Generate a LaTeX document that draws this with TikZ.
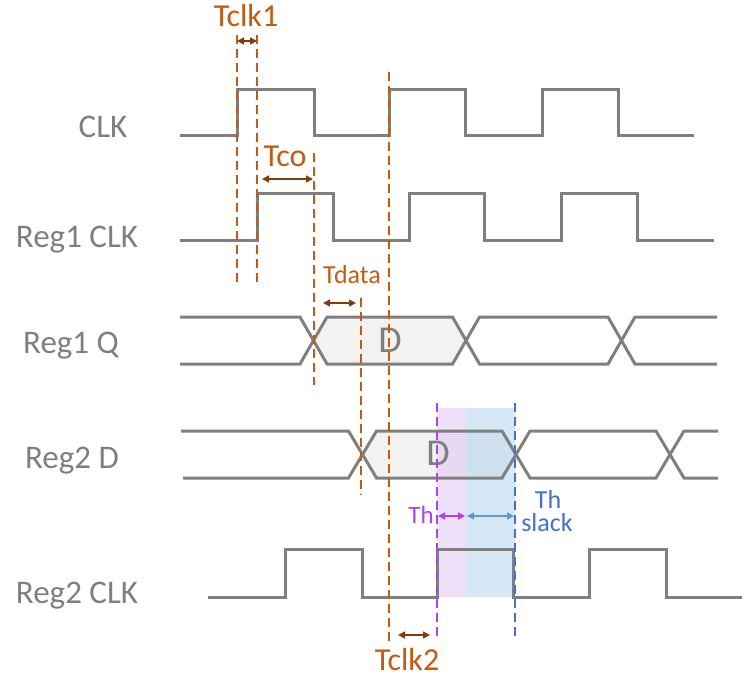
\documentclass[tikz,border=0pt]{standalone}
\usepackage{fontspec}
\setmainfont{Carlito}
\usetikzlibrary{arrows.meta}
\definecolor{wavegray}{HTML}{7F7F7F}
\definecolor{busfill}{HTML}{F2F2F2}
\definecolor{timorange}{HTML}{C55A11}
\definecolor{timbrown}{HTML}{843C0C}
\definecolor{holdpurple}{HTML}{B042E8}
\definecolor{holdfill}{HTML}{DFBFF3}
\definecolor{slackblue}{HTML}{4472C4}
\definecolor{slackarrow}{HTML}{5B9BD5}
\definecolor{slackfill}{HTML}{ADCFEB}
\tikzset{
  wave/.style={draw=wavegray, line width=1.5pt},
  guide/.style={line width=0.75pt, dash pattern=on 4.5pt off 2.5pt},
  span/.style={line width=0.75pt,
    {Triangle[length=3.5pt,width=3.5pt]}-{Triangle[length=3.5pt,width=3.5pt]}},
  signame/.style={anchor=base, inner sep=1pt, text=wavegray, font=\fontsize{16.5}{19}\selectfont},
  timename/.style={anchor=base, inner sep=1pt, text=timorange, font=\fontsize{16}{19}\selectfont},
  dataname/.style={anchor=base, inner sep=1pt, text=wavegray, font=\fontsize{19}{22}\selectfont},
  slackname/.style={anchor=base, inner sep=0.5pt, text=slackblue, font=\fontsize{13}{15}\selectfont}
}
\begin{document}
\begin{tikzpicture}[x=0.5pt,y=-0.5pt]
      \useasboundingbox (0,0) rectangle (754,676);
      % signal names
      \draw
        (103,137) node[signame] (clk){CLK}
        (77,247) node[signame] (r1clk){Reg1 CLK}
        (71,353) node[signame] (r1q){Reg1 Q}
        (72,468) node[signame] (r2d){Reg2 D}
        (77,603) node[signame] (r2clk){Reg2 CLK};
      % data bus fills
      \fill[busfill] (313.5,340.5) -- (327,317) -- (452.5,317) -- (466,340.5)
        -- (452.5,364) -- (327,364) -- cycle;
      \fill[busfill] (362.5,454.5) -- (376.5,431) -- (502,431) -- (516,454.5)
        -- (502,478) -- (376.5,478) -- cycle;
      % hold and slack windows
      \fill[holdfill, opacity=0.5] (437,408) rectangle (466,597);
      \fill[slackfill, opacity=0.5] (466,408) rectangle (515,597);
      % clocks
      \draw[wave] (180,135) -| (237,89) -| (314,135) -| (389,89) -| (465,135)
        -| (542,89) -| (618,135) -- (694,135);
      \draw[wave] (180,240) -| (257,193) -| (333,240) -| (409,193) -| (484,240)
        -| (561,193) -| (637,240) -- (714,240);
      \draw[wave] (208,597) -| (285,549) -| (362,597) -| (437,549) -| (513,597)
        -| (589,549) -| (666,597) -- (742,597);
      % data buses
      \draw[wave] (180,317) -- (300,317) -- (327,364) -- (452.5,364) -- (479.5,317)
        -- (608,317) -- (635,364) -- (717,364);
      \draw[wave] (180,364) -- (300,364) -- (327,317) -- (452.5,317) -- (479.5,364)
        -- (608,364) -- (635,317) -- (717,317);
      \draw[wave] (181,431) -- (348.5,431) -- (376.5,478) -- (502,478) -- (530,431)
        -- (656,431) -- (684,478) -- (718,478);
      \draw[wave] (183,478) -- (348.5,478) -- (376.5,431) -- (502,431) -- (530,478)
        -- (656,478) -- (684,431) -- (718,431);
      \draw
        (390,352) node[dataname] (d1){D}
        (438,465) node[dataname] (d2){D};
      % timing guides
      \begin{scope}[guide, timorange]
        \draw (237,35) -- (237,287);
        \draw (257,35) -- (257,287);
        \draw (314,153) -- (314,385);
        \draw (361,298) -- (361,495);
        \draw (389,72) -- (389,643);
      \end{scope}
      \draw[guide, holdpurple] (437,403) -- (437,637);
      \draw[guide, slackblue] (515,403) -- (515,637);
      % delays
      \coordinate (tclk1a) at (237,41);
      \coordinate (tclk1b) at (257,41);
      \coordinate (tcoa) at (262,179);
      \coordinate (tcob) at (313,179);
      \coordinate (tdataa) at (323,303);
      \coordinate (tdatab) at (356,303);
      \coordinate (tclk2a) at (398,635);
      \coordinate (tclk2b) at (430,635);
      \coordinate (tha) at (438,516);
      \coordinate (thb) at (465,516);
      \coordinate (slacka) at (467,516);
      \coordinate (slackb) at (514,516);
      \begin{scope}[span, timbrown]
        \draw (tclk1a) to (tclk1b);
        \draw (tcoa) to (tcob);
        \draw (tdataa) to (tdatab);
        \draw (tclk2a) to (tclk2b);
      \end{scope}
      \draw[span, holdpurple] (tha) to (thb);
      \draw[span, slackarrow] (slacka) to (slackb);
      \draw
        (246,26) node[timename] (tclk1){Tclk1}
        (285,166) node[timename] (tco){Tco}
        (352,283) node[timename, font=\fontsize{13}{15}\selectfont] (tdata){Tdata}
        (407,670) node[timename] (tclk2){Tclk2}
        (421,523) node[anchor=base, inner sep=1pt, text=holdpurple, font=\fontsize{12.5}{15}\selectfont] (th){Th}
        (548,508) node[slackname] (thslack){Th}
        (547,531) node[slackname] (slack){slack};
\end{tikzpicture}
\end{document}
